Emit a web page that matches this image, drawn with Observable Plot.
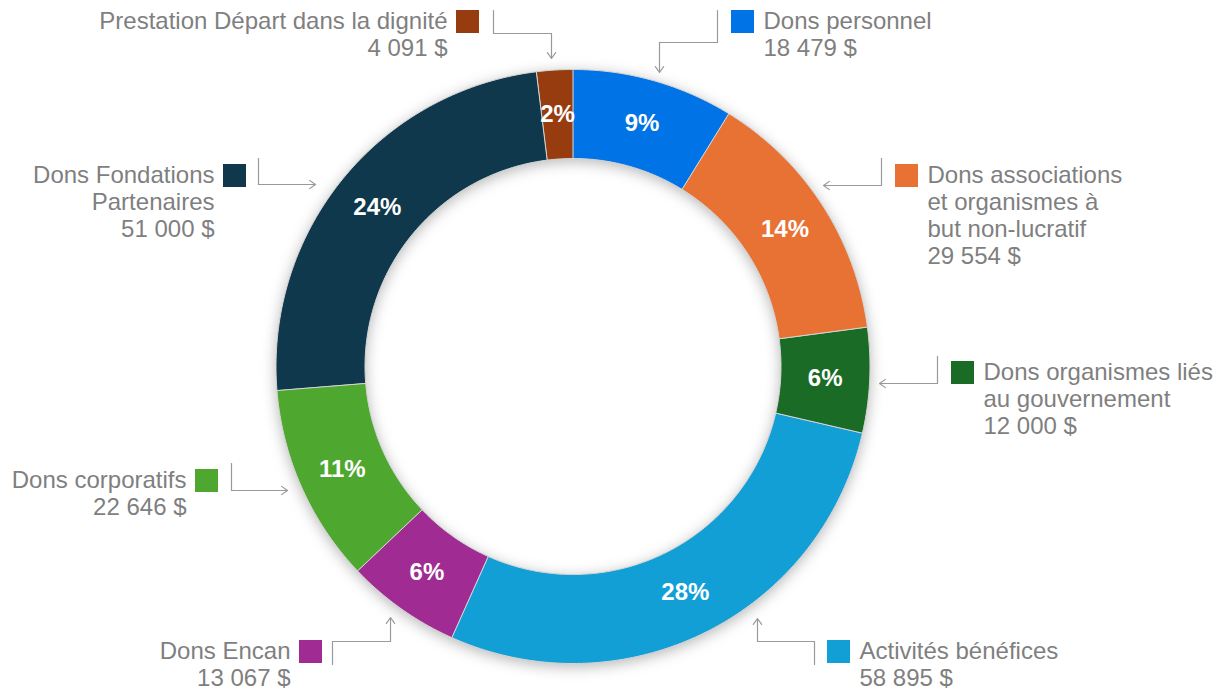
<!DOCTYPE html>
<html>
<head>
<meta charset="utf-8">
<script src="https://cdn.jsdelivr.net/npm/d3@7"></script>
<script src="https://cdn.jsdelivr.net/npm/@observablehq/plot@0.6"></script>
<style>
  html, body { margin: 0; padding: 0; background: #ffffff; }
  #chart svg { display: block; }
</style>
</head>
<body>
<div id="chart"></div>
<script>
// ---------- DATA ----------
const categories = [
  "Dons personnel",
  "Dons associations et organismes à but non-lucratif",
  "Dons organismes liés au gouvernement",
  "Activités bénéfices",
  "Dons Encan",
  "Dons corporatifs",
  "Dons Fondations Partenaires",
  "Prestation Départ dans la dignité"
];
const amounts = [18479, 29554, 12000, 58895, 13067, 22646, 51000, 4091];
const labelLines = [
  "Dons personnel",
  "Dons associations\net organismes à\nbut non-lucratif",
  "Dons organismes liés\nau gouvernement",
  "Activités bénéfices",
  "Dons Encan",
  "Dons corporatifs",
  "Dons Fondations\nPartenaires",
  "Prestation Départ dans la dignité"
];
const colors = ["#0073E6", "#E87234", "#1A6B26", "#129FD6", "#A02B93", "#4EA72E", "#0F384C", "#963C0F"];

// ---------- LAYOUT (positions / sizes, not data) ----------
const W = 1223, H = 690;
const ring = {cx: 572.5, cy: 366, outer: 297, inner: 208};
const sq = 23;
const labelLayout = [
  {sx: 731, sy: 10, side: "right", path: [[717, 10], [717, 42], [659, 42], [659, 72]]},
  {sx: 895, sy: 164, side: "right", path: [[881, 158], [881, 185], [823, 185]]},
  {sx: 951, sy: 361, side: "right", path: [[937, 356], [937, 383], [879, 383]]},
  {sx: 827, sy: 640, side: "right", path: [[814, 664], [814, 641], [757, 641], [757, 618]]},
  {sx: 299, sy: 640, side: "left", path: [[332, 664], [332, 641], [390, 641], [390, 617]]},
  {sx: 195, sy: 469, side: "left", path: [[231, 463], [231, 490], [287, 490]]},
  {sx: 223, sy: 164, side: "left", path: [[258, 158], [258, 184], [315, 184]]},
  {sx: 456, sy: 10, side: "left", path: [[493, 10], [493, 33], [551, 33], [551, 58]]}
];

// ---------- DERIVED ----------
const total = d3.sum(amounts);
const fr = d3.formatLocale({decimal: ",", thousands: " ", grouping: [3], currency: ["", " $"]});
const fmt = fr.format(",d");

const pie = d3.pie().sort(null).value(d => d.amount).startAngle(0).endAngle(2 * Math.PI);
const rows = categories.map((c, i) => ({cat: c, amount: amounts[i], color: colors[i], i}));
const arcs = pie(rows);

const px = (a, r) => ring.cx + r * Math.sin(a);
const py = (a, r) => ring.cy - r * Math.cos(a);

// polygon vertices for each slice
const slicePts = [];
arcs.forEach(a => {
  const n = Math.max(4, Math.ceil((a.endAngle - a.startAngle) / (Math.PI / 180)));
  for (let k = 0; k <= n; k++) {
    const t = a.startAngle + (a.endAngle - a.startAngle) * k / n;
    slicePts.push({cat: a.data.cat, color: a.data.color, x: px(t, ring.outer), y: py(t, ring.outer)});
  }
  for (let k = n; k >= 0; k--) {
    const t = a.startAngle + (a.endAngle - a.startAngle) * k / n;
    slicePts.push({cat: a.data.cat, color: a.data.color, x: px(t, ring.inner), y: py(t, ring.inner)});
  }
});

const pctLabels = arcs.map(a => {
  const m = (a.startAngle + a.endAngle) / 2, r = (ring.outer + ring.inner) / 2;
  return {x: px(m, r), y: py(m, r), text: Math.round(a.data.amount / total * 100) + "%"};
});

const legendRects = rows.map((d, i) => ({
  x1: labelLayout[i].sx, x2: labelLayout[i].sx + sq,
  y1: labelLayout[i].sy, y2: labelLayout[i].sy + sq, color: d.color
}));
const legendTexts = rows.map((d, i) => {
  const L = labelLayout[i];
  return {
    x: L.side === "right" ? L.sx + sq + 9 : L.sx - 9,
    y: L.sy - 1,
    anchor: L.side === "right" ? "start" : "end",
    text: labelLines[i] + "\n" + fmt(d.amount) + " $"
  };
});
const connectorPts = [];
const arrowSegs = [];
labelLayout.forEach((L, i) => {
  const p = L.path;
  for (let k = 0; k < p.length - 1; k++) connectorPts.push({id: i, x: p[k][0], y: p[k][1]});
  const a = p[p.length - 2], b = p[p.length - 1];
  arrowSegs.push({x1: a[0], y1: a[1], x2: b[0], y2: b[1]});
});

const textsRight = legendTexts.filter(d => d.anchor === "start");
const textsLeft = legendTexts.filter(d => d.anchor === "end");

const chart = Plot.plot({
  width: W, height: H,
  margin: 0,
  x: {domain: [0, W], range: [0, W], axis: null},
  y: {domain: [0, H], range: [0, H], axis: null},
  color: {type: "identity"},
  style: {background: "#ffffff", fontFamily: "'Liberation Sans', Arial, sans-serif"},
  marks: [
    Plot.line(slicePts, {x: "x", y: "y", z: "cat", fill: "color", stroke: "#d4d4d4", strokeWidth: 1, curve: "linear-closed"}),
    Plot.text(pctLabels, {x: "x", y: "y", text: "text", fill: "white", fontWeight: "bold", fontSize: 24}),
    Plot.rect(legendRects, {x1: "x1", x2: "x2", y1: "y1", y2: "y2", fill: "color"}),
    Plot.text(textsRight, {x: "x", y: "y", text: "text", textAnchor: "start", lineAnchor: "top", lineHeight: 1.13, fontSize: 24, fill: "#7f7f7f"}),
    Plot.text(textsLeft, {x: "x", y: "y", text: "text", textAnchor: "end", lineAnchor: "top", lineHeight: 1.13, fontSize: 24, fill: "#7f7f7f"}),
    Plot.line(connectorPts, {x: "x", y: "y", z: "id", stroke: "#999999", strokeWidth: 1.2}),
    Plot.arrow(arrowSegs, {x1: "x1", y1: "y1", x2: "x2", y2: "y2", stroke: "#999999", strokeWidth: 1.2, headLength: 9, headAngle: 70})
  ]
});
const ringG = chart.querySelector('g[aria-label="line"]');
if (ringG) ringG.style.filter = "drop-shadow(0px 3px 7px rgba(0,0,0,0.28))";
document.getElementById("chart").appendChild(chart);
</script>
</body>
</html>
